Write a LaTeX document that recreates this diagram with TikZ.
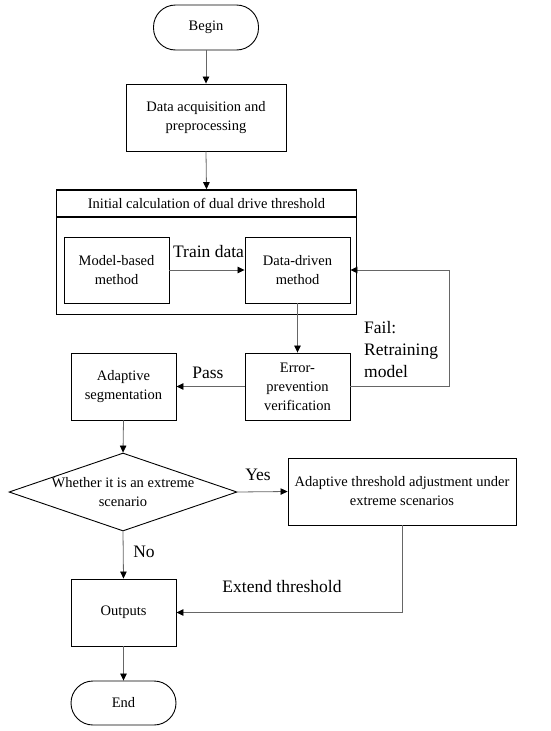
\documentclass[tikz,border=0pt]{standalone}
\usepackage{fontspec}
\setmainfont{Liberation Serif}
\usetikzlibrary{arrows.meta,shapes.geometric}
\begin{document}
\begin{tikzpicture}[x=1pt,y=-1pt,
 box/.style={draw,line width=0.9pt,align=center,font=\fontsize{14.5}{19}\selectfont,inner sep=0pt},
 term/.style={box,rounded corners=22pt},
 conn/.style={draw=black!60,line width=0.8pt,-{Triangle[length=7pt,width=6.5pt,color=black]}},
 lbl/.style={font=\fontsize{17.5}{22}\selectfont,inner sep=0pt}]
\useasboundingbox (0,0) rectangle (550,731);
% nodes
\node[term,minimum width=105pt,minimum height=45pt] (begin) at (206,27.5) {Begin};
\node[box,minimum width=160pt,minimum height=67pt] (acq) at (206,117.5) {Data acquisition and\\preprocessing};
\node[draw,line width=0.9pt,minimum width=300pt,minimum height=124pt,inner sep=0pt] (outer) at (206.5,252) {};
\node[box,line width=1.6pt,minimum width=300pt,minimum height=27pt] (head) at (206.5,203.5) {Initial calculation of dual drive threshold};
\node[box,minimum width=105pt,minimum height=66pt] (model) at (116.5,270) {Model-based\\method};
\node[box,minimum width=105pt,minimum height=66pt] (ddm) at (297.5,270) {Data-driven\\method};
\node[box,minimum width=105pt,minimum height=67pt] (err) at (297.5,386.5) {Error-\\prevention\\verification};
\node[box,minimum width=105pt,minimum height=67pt] (seg) at (123.5,386.5) {Adaptive\\segmentation};
\node[draw,line width=0.9pt,diamond,minimum width=228pt,minimum height=78pt,inner sep=0pt] (dia) at (123,492) {};
\node[align=center,font=\fontsize{14.5}{19}\selectfont,inner sep=0pt] (diatext) at (dia.center) {Whether it is an extreme\\scenario};
\node[box,minimum width=228pt,minimum height=67pt] (adj) at (402,491.5) {Adaptive threshold adjustment under\\extreme scenarios};
\node[box,minimum width=105pt,minimum height=67pt] (out) at (123.5,612.5) {Outputs};
\node[term,minimum width=105pt,minimum height=44pt] (end) at (123.5,703) {End};
\coordinate (failx) at (449,386.5);
% connectors
\draw[conn] (begin.south) -- (acq.north);
\draw[conn] (acq.south) -- (head.north);
\draw[conn] (model.east) -- (ddm.west);
\draw[conn] (ddm.south) -- (err.north);
\draw[conn] (err.west) -- (seg.east);
\draw[conn] (err.east) -- (failx) |- (ddm.east);
\draw[conn] (seg.south) -- (dia.north);
\draw[conn] (dia.east) -- (adj.west);
\draw[conn] (dia.south) -- (out.north);
\draw[conn] (adj.south) |- (out.east);
\draw[conn] (out.south) -- (end.north);
% labels
\node[lbl] (ltrain) at (208.5,252) {Train data};
\node[lbl] (lpass) at (208,373) {Pass};
\node[lbl,align=left,anchor=west] (lfail) at (364,350) {Fail:\\Retraining\\model};
\node[lbl] (lyes) at (258,475) {Yes};
\node[lbl] (lno) at (144,552) {No};
\node[lbl] (lext) at (282,587) {Extend threshold};
\end{tikzpicture}
\end{document}
